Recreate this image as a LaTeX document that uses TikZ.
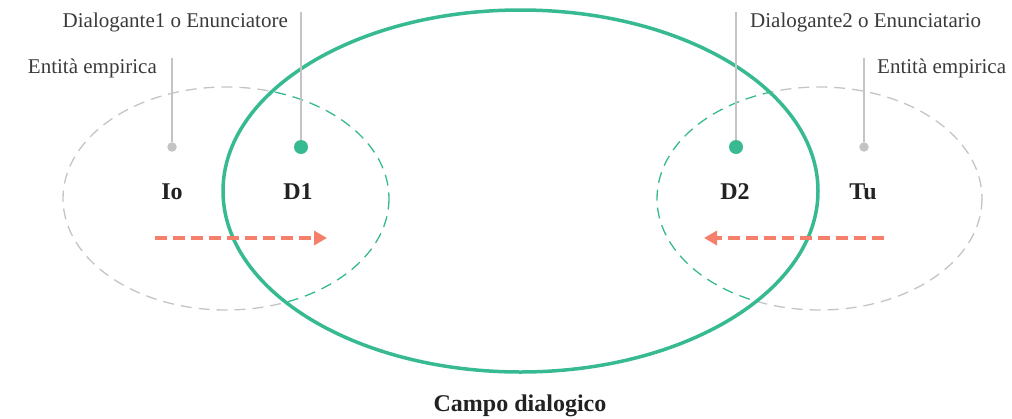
\documentclass[tikz,border=0pt]{standalone}
\usepackage{fontspec}
\setmainfont{Liberation Serif}
\usetikzlibrary{arrows.meta}
\definecolor{fieldgreen}{HTML}{37BA92}
\definecolor{empgray}{HTML}{C4C4C4}
\definecolor{flowred}{HTML}{F4806B}
\definecolor{txtgray}{HTML}{3A3A3A}
\definecolor{txtdark}{HTML}{222222}
\tikzset{
  empdash/.style={draw=empgray, line width=1.3pt, dash pattern=on 11pt off 7pt},
  fielddash/.style={draw=fieldgreen, line width=1.3pt, dash pattern=on 11pt off 7pt},
  fieldline/.style={draw=fieldgreen, line width=3.5pt},
  leader/.style={draw=empgray, line width=1.4pt},
  dotgray/.style={circle, fill=empgray, inner sep=0pt, minimum size=9.5pt},
  dotgreen/.style={circle, fill=fieldgreen, inner sep=0pt, minimum size=14pt},
  lbl/.style={text=txtgray, font=\fontsize{21}{24}\selectfont, inner sep=0pt},
  rolelbl/.style={text=txtdark, font=\fontsize{24}{28}\selectfont\bfseries, inner sep=0pt},
  flow/.style={draw=flowred, line width=3.6pt, dash pattern=on 12pt off 6pt,
    -{Triangle[length=13pt, width=14pt]}}
}
\begin{document}
\begin{tikzpicture}[x=1pt,y=-1pt]
\useasboundingbox (0,0) rectangle (1012,418);

% empirical entities (outer dashed ellipses)
\draw[empdash] (226,198.5) ellipse [x radius=163, y radius=111.5];
\draw[empdash] (819.5,198.5) ellipse [x radius=162.5, y radius=111.5];

% dialogic field: blank interior, green dashed parts inside it
\fill[white] (520.5,191) ellipse [x radius=297.5, y radius=181];
\begin{scope}
  \clip (520.5,191) ellipse [x radius=297.5, y radius=181];
  \draw[fielddash] (226,198.5) ellipse [x radius=163, y radius=111.5];
  \draw[fielddash] (819.5,198.5) ellipse [x radius=162.5, y radius=111.5];
\end{scope}
\draw[fieldline] (520.5,191) ellipse [x radius=297.5, y radius=181];

% leader lines and dots
\node[dotgray]  (iodot) at (172,147) {};
\node[dotgreen] (d1dot) at (301,147) {};
\node[dotgreen] (d2dot) at (736,147) {};
\node[dotgray]  (tudot) at (864,147) {};
\coordinate (iotop) at (172,58);
\coordinate (d1top) at (301,12);
\coordinate (d2top) at (736,12);
\coordinate (tutop) at (864,58);
\draw[leader] (iotop) -- (iodot);
\draw[leader] (d1top) -- (d1dot);
\draw[leader] (d2top) -- (d2dot);
\draw[leader] (tutop) -- (tudot);

% labels
\node[lbl, anchor=base east] (lblD1) at (288,27) {Dialogante1 o Enunciatore};
\node[lbl, anchor=base east] (lblIo) at (157,73) {Entità empirica};
\node[lbl, anchor=base west] (lblD2) at (750,27) {Dialogante2 o Enunciatario};
\node[lbl, anchor=base west] (lblTu) at (877,73) {Entità empirica};

\node[rolelbl, anchor=base] (io) at (172,199) {Io};
\node[rolelbl, anchor=base] (d1) at (298,199) {D1};
\node[rolelbl, anchor=base] (d2) at (735,199) {D2};
\node[rolelbl, anchor=base] (tu) at (863,199) {Tu};

\node[rolelbl, anchor=base] (campo) at (520,411) {Campo dialogico};

% flows
\coordinate (ioflow) at (155,238);
\coordinate (d1flow) at (327,238);
\coordinate (tuflow) at (884,238);
\coordinate (d2flow) at (704,238);
\draw[flow] (ioflow) -- (d1flow);
\draw[flow] (tuflow) -- (d2flow);
\end{tikzpicture}
\end{document}
